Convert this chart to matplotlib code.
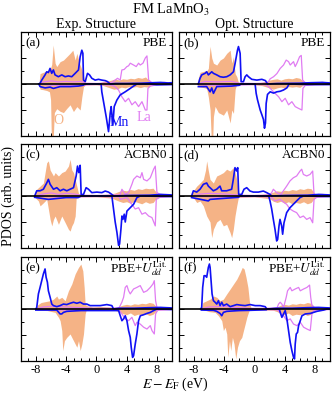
import numpy as np
import matplotlib
matplotlib.use('Agg')
import matplotlib.pyplot as plt
from matplotlib.ticker import MultipleLocator

plt.rcParams['font.family'] = ['Liberation Serif', 'DejaVu Serif']
plt.rcParams['mathtext.fontset'] = 'stix'

# PDOS: (E - E_F [eV], PDOS [arb.]) ; up = spin up, dn = spin down
a_O_up = [(-7.6,0),(-7.44,0.4),(-7.0,0.45),(-6.56,0.5),(-6.12,0.55),(-5.9,0.75),(-5.7,1.5),(-5.45,0.8),(-5.24,0.67),(-4.79,0.86),(-4.35,0.92),(-3.91,1.05),(-3.47,1.18),(-3.11,1.3),(-2.8,0.92),(-2.58,1.18),(-2.23,0.8),(-1.92,0.55),(-1.7,0.3),(-1.5,0.06),(-1.0,0.05),(0,0.04),(0.5,0.06),(1.0,0.1),(1.5,0.12),(2.0,0.15),(2.5,0.2),(3.0,0.15),(3.5,0.2),(4.0,0.18),(4.5,0.22),(5.0,0.2),(5.5,0.25),(6.0,0.22),(6.5,0.27),(6.9,0.15),(7.3,0.06),(8.0,0.04),(9.0,0.03),(10.0,0.02)]
a_O_dn = [(-7.6,0),(-7.44,-0.2),(-7.0,-0.22),(-6.56,-0.25),(-6.2,-0.3),(-6.05,-0.6),(-5.95,-2.1),(-5.7,-2.1),(-5.55,-1.1),(-5.24,-0.95),(-4.79,-1.05),(-4.35,-1.1),(-3.91,-0.94),(-3.47,-0.8),(-3.03,-1.06),(-2.58,-0.87),(-2.14,-1.0),(-1.92,-0.5),(-1.7,-0.1),(-1.4,-0.03),(0,-0.03),(0.8,-0.05),(1.3,-0.1),(1.8,-0.15),(2.3,-0.2),(2.8,-0.18),(3.3,-0.12),(3.8,-0.15),(4.3,-0.1),(4.8,-0.12),(5.3,-0.1),(5.8,-0.14),(6.3,-0.1),(6.8,-0.12),(7.2,-0.05),(8.0,-0.02),(10,-0.01)]
a_Mn_up = [(-7.6,0),(-7.44,0.03),(-7.22,0.15),(-6.78,0.35),(-6.56,0.47),(-6.34,0.44),(-6.12,0.6),(-5.9,0.41),(-5.68,0.54),(-5.46,0.35),(-5.02,0.28),(-4.57,0.35),(-4.13,0.28),(-3.69,0.31),(-3.25,0.28),(-2.8,0.41),(-2.36,0.54),(-2.14,1.05),(-1.92,1.3),(-1.78,1.18),(-1.7,0.15),(-1.47,0.09),(-1.17,0.41),(-0.9,0.35),(-0.6,0.22),(-0.16,0.15),(0.28,0.18),(0.72,0.15),(1.17,0.13),(1.48,0.09),(1.83,0),(2.5,0.02),(4,0.02),(6,0.03),(7.5,0.05),(8.5,0.06),(9.5,0.04),(10,0.05)]
a_Mn_dn = [(-7.6,0),(-7.44,-0.1),(-6.78,-0.15),(-6.12,-0.12),(-5.68,-0.17),(-4.79,-0.1),(-3.47,-0.1),(-2.36,-0.08),(-1.78,-0.05),(-1.47,0),(0.63,0),(0.72,-0.3),(0.95,-0.68),(1.3,-1.26),(1.61,-1.83),(1.83,-1.13),(1.96,-0.87),(2.18,-1.58),(2.36,-0.87),(2.71,-0.62),(3.15,-0.42),(3.82,-0.3),(4.48,-0.17),(4.92,-0.08),(5.36,0),(7,0),(8,-0.03),(10,-0.02)]
a_La_up = [(-7.5,0),(-7,0.08),(-6,0.12),(-5,0.08),(-4,0.1),(-3,0.08),(-2,0.1),(-1.5,0.03),(0,0.02),(1,0.03),(2,0.05),(2.49,0.15),(2.8,0.22),(3.15,0.15),(3.37,0.54),(3.68,0.56),(4.04,0.67),(4.26,0.7),(4.48,0.8),(4.92,0.73),(5.27,0.67),(5.58,0.8),(5.8,0.73),(6.16,0.8),(6.47,1.0),(6.69,1.08),(6.91,0.15),(7.35,0.05),(8,0.03),(9,0.06),(10,0.04)]
a_La_dn = [(-7.5,0),(-6,-0.05),(-3,-0.05),(0,-0.02),(2,-0.04),(2.49,-0.1),(2.93,-0.23),(3.37,-0.49),(3.82,-0.68),(4.26,-0.55),(4.7,-0.8),(5.14,-0.68),(5.58,-0.87),(6.03,-0.68),(6.47,-1.0),(6.69,-1.0),(6.82,-0.17),(7.13,-0.08),(8,-0.03),(10,-0.02)]

b_O_up = [(-7.6,0),(-7.4,0.22),(-7.18,0.45),(-6.52,0.5),(-6.3,0.5),(-6.08,0.6),(-5.85,1.45),(-5.63,1.0),(-5.41,0.8),(-4.97,0.73),(-4.53,0.92),(-4.09,1.0),(-3.65,1.18),(-3.2,1.3),(-2.98,0.8),(-2.76,1.05),(-2.54,0.4),(-2.32,0.28),(-2.1,0.05),(-1.5,0.04),(0,0.04),(0.8,0.06),(1.5,0.1),(2.0,0.15),(2.5,0.18),(3.0,0.2),(3.5,0.15),(4.0,0.2),(4.5,0.22),(5.0,0.2),(5.5,0.25),(6.0,0.22),(6.3,0.15),(6.7,0.05),(8,0.03),(10,0.02)]
b_O_dn = [(-7.6,0),(-7.4,-0.1),(-6.52,-0.15),(-6.3,-0.18),(-6.08,-0.5),(-5.85,-1.0),(-5.7,-2.1),(-5.5,-2.1),(-5.41,-1.25),(-5.19,-0.86),(-4.75,-1.1),(-4.09,-1.2),(-3.65,-1.0),(-3.2,-1.5),(-2.98,-1.0),(-2.76,-1.13),(-2.54,-0.2),(-2.32,0),(0,-0.03),(1,-0.06),(2,-0.15),(2.5,-0.2),(3,-0.15),(3.5,-0.12),(4,-0.15),(4.5,-0.1),(5,-0.12),(5.5,-0.1),(6,-0.13),(6.4,-0.05),(8,-0.02),(10,-0.01)]
b_Mn_up = [(-7.4,0),(-7.18,0.22),(-6.96,0.35),(-6.52,0.41),(-6.3,0.47),(-6.08,0.35),(-5.63,0.47),(-5.41,0.41),(-4.97,0.35),(-4.53,0.28),(-4.09,0.26),(-3.65,0.28),(-3.2,0.35),(-2.76,0.47),(-2.54,0.8),(-2.23,1.3),(-2.1,1.44),(-1.88,1.18),(-1.75,0.09),(-1.44,0.09),(-1.22,0.28),(-1.0,0.35),(-0.78,0.28),(-0.34,0.18),(0.33,0.15),(0.99,0.18),(1.47,0.13),(1.74,0),(3,0.02),(6,0.03),(7.5,0.05),(9,0.06),(10,0.04)]
b_Mn_dn = [(-7.4,-0.1),(-6.3,-0.1),(-5.85,-0.3),(-5.63,-0.15),(-5.41,-0.36),(-4.97,-0.1),(-3,-0.08),(-2,-0.05),(-1.75,0),(0.1,0),(0.24,-0.36),(0.41,-0.6),(0.77,-1.0),(0.99,-1.18),(1.21,-1.37),(1.34,-1.7),(1.47,-1.5),(1.56,-0.75),(1.74,-0.4),(2.09,-0.3),(2.54,-0.35),(2.98,-0.3),(3.42,-0.28),(3.86,-0.23),(4.3,-0.15),(4.6,0),(7,-0.02),(10,-0.02)]
b_La_up = [(-7.5,0),(-6.5,0.1),(-5,0.08),(-3,0.1),(-2,0.03),(0,0.02),(1.5,0.03),(1.74,0.03),(2.09,0.2),(2.54,0.28),(2.98,0.4),(3.42,0.6),(3.86,0.73),(4.21,0.92),(4.52,0.86),(4.74,0.73),(5.18,0.86),(5.4,0.67),(5.63,0.8),(5.98,1.05),(6.2,1.1),(6.38,0.15),(6.73,0.05),(8,0.04),(9,0.06),(10,0.03)]
b_La_dn = [(-7.5,0),(-6,-0.05),(-3,-0.05),(0,-0.02),(1.5,-0.03),(1.87,-0.1),(2.54,-0.3),(3.2,-0.49),(3.64,-0.68),(4.08,-0.55),(4.52,-0.8),(4.96,-0.68),(5.4,-0.87),(5.85,-0.94),(6.29,-1.0),(6.42,-0.17),(6.73,-0.05),(8,-0.03),(10,-0.02)]

c_O_up = [(-8.2,0),(-8.1,0.06),(-7.88,0.26),(-7.44,0.38),(-7.0,0.5),(-6.56,1.28),(-6.34,1.35),(-6.11,1.0),(-5.67,0.77),(-5.45,0.9),(-5.01,0.77),(-4.57,0.9),(-4.13,0.96),(-3.69,1.15),(-3.47,1.41),(-3.25,1.0),(-3.02,0.9),(-2.8,0.64),(-2.58,0.38),(-2.36,0.1),(-2.0,0.05),(-1,0.04),(0,0.05),(1,0.06),(2,0.08),(2.5,0.12),(3,0.18),(3.5,0.22),(4,0.2),(4.5,0.25),(5,0.22),(5.5,0.28),(6,0.25),(6.5,0.3),(7,0.28),(7.5,0.3),(7.9,0.15),(8.3,0.05),(10,0.02)]
c_O_dn = [(-8.2,0),(-8.1,-0.06),(-7.66,-0.19),(-7.44,-0.38),(-7.0,-0.26),(-6.56,-0.13),(-6.34,-0.5),(-6.11,-0.9),(-5.89,-1.15),(-5.67,-0.9),(-5.45,-0.77),(-5.01,-1.09),(-4.57,-0.77),(-4.13,-1.02),(-3.69,-1.28),(-3.47,-1.35),(-3.25,-1.15),(-3.02,-1.02),(-2.8,-0.77),(-2.67,-0.1),(-2.3,-0.03),(0,-0.03),(2,-0.08),(3,-0.2),(3.5,-0.25),(4,-0.22),(4.5,-0.28),(5,-0.2),(5.5,-0.25),(6,-0.3),(6.5,-0.22),(7,-0.28),(7.5,-0.25),(7.9,-0.1),(8.5,-0.03),(10,-0.01)]
c_Mn_up = [(-8.15,0),(-7.88,0.2),(-7.44,0.2),(-7.0,0.26),(-6.78,0.38),(-6.56,0.5),(-6.34,0.64),(-6.11,0.45),(-5.67,0.26),(-5.23,0.32),(-4.79,0.2),(-4.35,0.26),(-3.91,0.2),(-3.47,0.26),(-3.02,0.32),(-2.67,0.77),(-2.49,1.15),(-2.32,0.9),(-2.14,1.18),(-2.01,0.06),(-1.7,0.06),(-1.35,0.32),(-1.04,0.26),(-0.6,0.13),(0.07,0.15),(0.73,0.13),(1.17,0.19),(1.61,0.15),(2.05,0.06),(2.3,0),(4,0.02),(7,0.03),(8.5,0.06),(10,0.04)]
c_Mn_dn = [(-8.15,-0.05),(-6.34,-0.13),(-4,-0.06),(-2.4,-0.06),(-2.0,0),(2.05,0),(2.27,-0.5),(2.49,-1.0),(2.72,-1.4),(2.94,-1.9),(3.07,-1.85),(3.25,-1.28),(3.38,-0.77),(3.51,-0.9),(3.69,-0.7),(3.82,-1.0),(4.04,-0.58),(4.48,-0.45),(4.92,-0.32),(5.36,-0.06),(5.81,0),(10,-0.02)]
c_La_up = [(-8,0),(-7,0.08),(-6,0.12),(-5,0.06),(-4,0.1),(-3,0.08),(-2,0.03),(0,0.02),(2,0.03),(3,0.04),(3.16,0.06),(3.38,0.26),(3.82,0.06),(4.26,0.13),(4.7,0.45),(4.92,0.64),(5.36,0.77),(5.81,0.7),(6.03,0.9),(6.25,0.64),(6.69,0.58),(7.13,0.7),(7.57,1.03),(7.79,1.15),(8.01,0.13),(8.45,0.06),(9,0.05),(10,0.03)]
c_La_dn = [(-8,0),(-5,-0.04),(0,-0.02),(3,-0.03),(3.16,-0.13),(4.04,-0.06),(4.7,-0.32),(5.14,-0.5),(5.58,-0.45),(6.03,-0.7),(6.47,-0.64),(6.91,-0.77),(7.35,-0.83),(7.79,-1.15),(7.92,-0.13),(8.4,-0.05),(10,-0.02)]

d_O_up = [(-8.4,0),(-8.28,0.1),(-8.06,0.2),(-7.62,0.38),(-7.18,0.5),(-6.74,0.64),(-6.45,1.0),(-6.3,1.35),(-6.1,1.0),(-5.86,0.64),(-5.42,0.5),(-4.98,0.77),(-4.54,0.83),(-4.1,0.9),(-3.66,1.03),(-3.22,0.96),(-2.78,1.09),(-2.56,0.9),(-2.33,0.64),(-2.11,0.13),(-1.9,0.04),(0,0.04),(1,0.06),(2,0.1),(2.5,0.15),(3,0.2),(3.5,0.18),(4,0.22),(4.5,0.2),(5,0.25),(5.5,0.22),(6,0.28),(6.5,0.25),(7,0.3),(7.5,0.28),(7.9,0.12),(8.3,0.04),(10,0.02)]
d_O_dn = [(-8.4,0),(-8.06,-0.06),(-7.62,-0.25),(-7.18,-0.19),(-6.74,-0.38),(-6.3,-0.77),(-5.86,-1.0),(-5.64,-1.6),(-5.42,-1.28),(-4.98,-1.0),(-4.54,-0.9),(-4.1,-1.15),(-3.66,-1.09),(-3.22,-1.4),(-3.0,-1.6),(-2.78,-1.28),(-2.56,-0.77),(-2.33,-0.38),(-2.11,-0.05),(0,-0.03),(2,-0.1),(2.5,-0.2),(3,-0.25),(3.5,-0.2),(4,-0.28),(4.5,-0.22),(5,-0.3),(5.5,-0.25),(6,-0.28),(6.5,-0.22),(7,-0.3),(7.5,-0.25),(7.9,-0.1),(8.3,-0.03),(10,-0.01)]
d_Mn_up = [(-8.3,0),(-8.06,0.2),(-7.62,0.15),(-7.18,0.26),(-6.74,0.45),(-6.3,0.5),(-6.08,0.38),(-5.64,0.26),(-5.42,0.2),(-4.98,0.26),(-4.54,0.38),(-4.32,0.2),(-3.66,0.2),(-3.0,0.26),(-2.78,0.64),(-2.56,1.09),(-2.33,0.96),(-2.2,1.09),(-2.07,0.06),(-1.67,0.06),(-1.37,0.26),(-1.01,0.32),(-0.57,0.19),(-0.13,0.15),(0.53,0.15),(1.19,0.19),(1.63,0.13),(2.07,0.06),(2.3,0),(4,0.02),(7,0.03),(8.5,0.06),(10,0.04)]
d_Mn_dn = [(-8.3,-0.06),(-6.08,-0.19),(-5.86,-0.13),(-2.1,-0.05),(-1.9,0),(1.9,0),(2.07,-0.19),(2.29,-0.5),(2.51,-0.9),(2.73,-1.28),(2.95,-1.73),(3.08,-1.67),(3.26,-1.15),(3.39,-0.9),(3.61,-1.15),(3.74,-1.47),(3.92,-1.03),(4.27,-0.64),(4.71,-0.45),(5.15,-0.32),(5.59,-0.19),(6.04,-0.06),(6.5,0),(10,-0.02)]
d_La_up = [(-8,0),(-7,0.08),(-6,0.1),(-4,0.08),(-2,0.03),(0,0.02),(2,0.04),(2.29,0.13),(2.51,0.26),(2.95,0.13),(3.5,0.06),(4.27,0.38),(4.71,0.58),(5.15,0.7),(5.59,0.77),(6.04,0.96),(6.26,1.03),(6.48,0.83),(6.92,0.77),(7.36,0.83),(7.71,0.96),(7.89,0.06),(8.24,0.05),(9,0.06),(10,0.03)]
d_La_dn = [(-8,0),(-5,-0.04),(0,-0.02),(2,-0.03),(2.29,-0.06),(2.73,-0.19),(3.39,-0.13),(4.27,-0.32),(4.71,-0.5),(5.15,-0.58),(5.59,-0.64),(6.04,-0.83),(6.48,-0.77),(6.92,-0.9),(7.36,-0.83),(7.71,-1.03),(7.89,-0.13),(8.24,-0.05),(10,-0.02)]

e_O_up = [(-8.0,0),(-7.8,0.15),(-7.3,0.25),(-6.8,0.28),(-6.11,0.32),(-5.67,0.38),(-5.23,0.5),(-5.01,0.38),(-4.57,0.45),(-4.13,0.32),(-3.69,0.7),(-3.25,0.96),(-2.8,1.35),(-2.36,1.6),(-2.05,1.73),(-1.79,1.47),(-1.61,0.83),(-1.48,0.19),(-1.26,0.13),(-0.5,0.08),(0.5,0.1),(1.5,0.08),(2.2,0.05),(2.6,0.04),(3,0.1),(3.5,0.15),(4,0.18),(4.5,0.15),(5,0.2),(5.5,0.18),(6,0.22),(6.5,0.2),(7,0.25),(7.5,0.22),(7.9,0.1),(8.3,0.04),(10,0.02)]
e_O_dn = [(-8.0,0),(-7.8,-0.05),(-6.5,-0.06),(-5.45,-0.13),(-5.01,-0.32),(-4.79,-0.45),(-4.57,-0.83),(-4.44,-1.6),(-4.22,-1.22),(-3.91,-1.09),(-3.47,-0.96),(-3.25,-1.09),(-3.02,-1.22),(-2.58,-1.47),(-2.36,-1.22),(-2.14,-1.6),(-1.92,-1.35),(-1.7,-0.96),(-1.48,-0.19),(-1.35,-0.05),(0,-0.03),(2.5,-0.05),(3,-0.12),(3.5,-0.18),(4,-0.22),(4.5,-0.15),(5,-0.25),(5.5,-0.2),(6,-0.22),(6.5,-0.18),(7,-0.25),(7.5,-0.2),(7.9,-0.08),(8.3,-0.03),(10,-0.01)]
e_Mn_up = [(-8.0,0),(-7.88,0.06),(-7.66,0.58),(-7.44,0.83),(-7.22,1.09),(-7.0,1.35),(-6.78,1.54),(-6.64,1.22),(-6.47,1.03),(-6.34,0.7),(-6.11,0.45),(-5.89,0.19),(-5.67,0.13),(-5.23,0.09),(-4.79,0.13),(-4.35,0.19),(-3.91,0.17),(-3.47,0.22),(-3.02,0.26),(-2.58,0.22),(-2.14,0.26),(-1.7,0.19),(-1.26,0.19),(-0.82,0.13),(-0.15,0.13),(0.51,0.13),(1.39,0.17),(2.05,0.13),(2.27,0),(3,0.03),(5,0.03),(7,0.05),(8.5,0.06),(10,0.04)]
e_Mn_dn = [(-8.0,-0.04),(-5.23,-0.04),(-4.79,-0.19),(-4.57,-0.19),(-4.35,-0.13),(-3.91,-0.09),(-2,-0.06),(2.27,-0.06),(2.94,-0.06),(3.16,-0.26),(3.38,-0.45),(3.6,-0.38),(3.82,-0.26),(4.04,-0.45),(4.26,-0.83),(4.48,-1.09),(4.61,-1.47),(4.79,-1.86),(4.92,-1.8),(5.14,-1.35),(5.36,-0.96),(5.58,-0.45),(5.81,-0.26),(6.25,-0.22),(6.69,-0.17),(7.13,-0.13),(7.57,-0.06),(8.01,0),(10,-0.02)]
e_La_up = [(-8,0),(-7,0.08),(-6,0.1),(-4,0.08),(-2,0.05),(0,0.02),(2,0.03),(3,0.05),(3.15,0.13),(3.37,0.26),(3.6,0.45),(3.82,0.83),(4.04,0.9),(4.26,0.7),(4.48,0.58),(4.92,0.77),(5.36,0.83),(5.8,0.9),(6.25,0.64),(6.69,0.7),(7.13,0.83),(7.48,0.96),(7.66,1.09),(7.83,0.32),(8.01,0.06),(9,0.05),(10,0.03)]
e_La_dn = [(-8,0),(-5,-0.04),(0,-0.02),(3,-0.04),(3.37,-0.19),(3.82,-0.38),(4.26,-0.45),(4.7,-0.32),(5.14,-0.64),(5.36,-0.51),(5.8,-0.58),(6.25,-0.7),(6.69,-0.77),(7.13,-0.64),(7.35,-0.83),(7.66,-0.96),(7.83,-0.19),(8.1,-0.05),(10,-0.02)]

f_O_up = [(-7.0,0),(-6.8,0.25),(-5.85,0.38),(-5.41,0.5),(-4.97,0.45),(-4.53,0.32),(-4.09,0.38),(-3.65,0.58),(-3.2,0.77),(-2.76,0.96),(-2.32,1.15),(-1.88,1.41),(-1.6,1.6),(-1.35,1.54),(-1.1,1.22),(-0.85,0.83),(-0.64,0.26),(-0.47,0.06),(0,0.05),(1,0.06),(2,0.05),(3,0.08),(3.5,0.15),(4,0.18),(4.5,0.15),(5,0.2),(5.5,0.18),(6,0.22),(6.5,0.2),(7,0.25),(7.5,0.22),(7.9,0.1),(8.3,0.04),(10,0.02)]
f_O_dn = [(-7.0,0),(-6.0,-0.1),(-5.19,-0.13),(-4.75,-0.26),(-4.31,-0.45),(-4.09,-0.83),(-3.87,-0.7),(-3.65,-0.96),(-3.51,-1.86),(-3.29,-1.22),(-3.12,-1.6),(-2.9,-1.09),(-2.68,-1.35),(-2.46,-1.92),(-2.23,-1.47),(-1.97,-1.22),(-1.66,-1.09),(-1.44,-0.83),(-1.22,-0.58),(-1.0,-0.32),(-0.78,-0.13),(-0.64,-0.03),(0,-0.03),(2.5,-0.05),(3,-0.1),(3.5,-0.18),(4,-0.22),(4.5,-0.15),(5,-0.25),(5.5,-0.2),(6,-0.22),(6.5,-0.18),(7,-0.25),(7.5,-0.2),(7.9,-0.08),(8.3,-0.03),(10,-0.01)]
f_Mn_up = [(-7.1,0),(-6.96,0.06),(-6.83,0.83),(-6.65,1.28),(-6.47,1.28),(-6.3,1.22),(-6.08,1.6),(-5.94,1.73),(-5.85,1.6),(-5.72,1.09),(-5.59,0.58),(-5.41,0.32),(-5.19,0.26),(-4.97,0.19),(-4.75,0.32),(-4.53,0.13),(-4.31,0.26),(-4.09,0.13),(-3.65,0.19),(-3.2,0.09),(-2.76,0.13),(-2.32,0.17),(-1.88,0.15),(-1.22,0.13),(-0.55,0.17),(0.11,0.13),(0.77,0.13),(1.43,0.09),(1.65,0),(3,0.03),(5,0.03),(7,0.05),(8.5,0.06),(10,0.04)]
f_Mn_dn = [(-7.0,-0.04),(-5.41,-0.05),(-4.97,-0.09),(-4.53,-0.17),(-4.31,-0.26),(-4.09,-0.13),(-3.65,-0.09),(-2,-0.06),(-0.5,-0.05),(1.6,-0.03),(1.7,0),(3.3,0),(3.42,-0.13),(3.64,-0.32),(3.86,-0.19),(4.08,-0.06),(4.3,-0.38),(4.52,-0.83),(4.74,-1.28),(4.96,-1.6),(5.18,-1.86),(5.31,-1.92),(5.4,-1.35),(5.54,-0.96),(5.71,-0.9),(5.85,-0.64),(6.07,-0.45),(6.29,-0.26),(6.73,-0.19),(7.39,-0.17),(8.27,-0.09),(9.16,-0.04),(9.6,0),(10,-0.01)]
f_La_up = [(-7,0),(-6,0.08),(-4,0.1),(-2,0.05),(0,0.02),(2,0.03),(3,0.04),(3.2,0.19),(3.42,0.26),(3.64,0.19),(3.86,0.06),(4.21,0.45),(4.39,0.7),(4.74,0.83),(4.96,0.7),(5.4,0.77),(5.85,0.83),(6.07,0.7),(6.51,0.77),(6.95,0.83),(7.3,0.92),(7.45,0.45),(7.6,0.15),(7.9,0.06),(9,0.05),(10,0.03)]
f_La_dn = [(-7,0),(-5,-0.04),(0,-0.02),(3,-0.03),(3.42,-0.13),(3.86,-0.26),(4.3,-0.45),(4.74,-0.38),(5.18,-0.58),(5.63,-0.64),(6.07,-0.51),(6.51,-0.7),(6.95,-0.77),(7.39,-0.83),(7.61,-0.19),(7.9,-0.05),(10,-0.02)]

panels = [('(a)', 'PBE', a_O_up, a_O_dn, a_Mn_up, a_Mn_dn, a_La_up, a_La_dn),
          ('(b)', 'PBE', b_O_up, b_O_dn, b_Mn_up, b_Mn_dn, b_La_up, b_La_dn),
          ('(c)', 'ACBN0', c_O_up, c_O_dn, c_Mn_up, c_Mn_dn, c_La_up, c_La_dn),
          ('(d)', 'ACBN0', d_O_up, d_O_dn, d_Mn_up, d_Mn_dn, d_La_up, d_La_dn),
          ('(e)', r'PBE+$U_{dd}^{\rm Lit.}$', e_O_up, e_O_dn, e_Mn_up, e_Mn_dn, e_La_up, e_La_dn),
          ('(f)', r'PBE+$U_{dd}^{\rm Lit.}$', f_O_up, f_O_dn, f_Mn_up, f_Mn_dn, f_La_up, f_La_dn)]

c_O = '#F5B386'
c_Mn = '#1010F5'
c_La = '#E07CF2'

W, H = 332, 394
fig = plt.figure(figsize=(W/100, H/100), dpi=100)
lefts = [20.7, 178.7]
tops = [32, 144, 257]
pw, ph = 151.3, 104

for i, (lab, meth, Ou, Od, Mu, Md, Lu, Ld) in enumerate(panels):
    r, c = i // 2, i % 2
    ax = fig.add_axes([lefts[c]/W, 1-(tops[r]+ph)/H, pw/W, ph/H])
    e, v = np.array(Ou).T
    ax.fill_between(e, 0, v, color=c_O, lw=0, zorder=1)
    e, v = np.array(Od).T
    ax.fill_between(e, v, 0, color=c_O, lw=0, zorder=1)
    for d in (Lu, Ld):
        e, v = np.array(d).T
        ax.plot(e, v, color=c_La, lw=0.9, zorder=2)
    for d in (Mu, Md):
        e, v = np.array(d).T
        ax.plot(e, v, color=c_Mn, lw=1.2, zorder=3)
    ax.axhline(0, color='k', lw=1.2, zorder=4)
    ax.set_xlim(-10, 10)
    ax.set_ylim(-2, 2)
    ax.xaxis.set_major_locator(MultipleLocator(4))
    ax.xaxis.set_minor_locator(MultipleLocator(1))
    ax.yaxis.set_major_locator(MultipleLocator(1))
    ax.yaxis.set_minor_locator(MultipleLocator(0.5))
    ax.tick_params(which='both', direction='in', top=True, right=True, width=0.7,
                   labelleft=False, labelbottom=(r == 2), labelsize=9, pad=2)
    ax.tick_params(which='major', length=3.5)
    ax.tick_params(which='minor', length=2)
    ax.set_xticks([-8, -4, 0, 4, 8])
    ax.set_xticklabels(['-8', '-4', '0', '4', '8'])
    for s in ax.spines.values():
        s.set_linewidth(0.9)
    ax.text(0.03, 0.89, lab, transform=ax.transAxes, fontsize=9.5, va='center', ha='left')
    ax.text(0.97, 0.89, meth, transform=ax.transAxes, fontsize=9.5, va='center', ha='right')
    if i == 0:
        ax.text(-5.0, -1.4, 'O', color=c_O, fontsize=10, ha='center', va='center')
        ax.text(3.0, -1.48, 'Mn', color=c_Mn, fontsize=10, ha='center', va='center')
        ax.text(6.3, -1.3, 'La', color=c_La, fontsize=10, ha='center', va='center')
    if r == 0:
        ax.set_title(['Exp. Structure', 'Opt. Structure'][c], fontsize=10, pad=3)

fig.text(171/W, 1-10/H, r'FM LaMnO$_3$', ha='center', va='center', fontsize=10.5)
fig.text(8/W, 1-196/H, 'PDOS (arb. units)', rotation=90, ha='center', va='center', fontsize=10)
fig.text(175/W, 1-384/H, r'$E-E_{\rm F}$ (eV)', ha='center', va='center', fontsize=10)

fig.savefig('out.png', dpi=100)
